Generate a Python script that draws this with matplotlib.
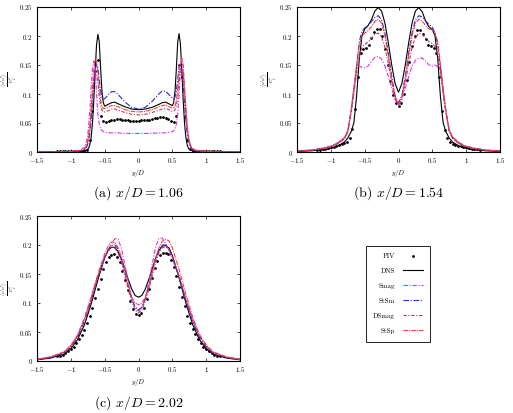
import numpy as np
import matplotlib
matplotlib.use('Agg')
import matplotlib.pyplot as plt

plt.rcParams['font.family'] = 'serif'
plt.rcParams['font.serif'] = ['cmr10', 'DejaVu Serif']
plt.rcParams['mathtext.fontset'] = 'cm'
plt.rcParams['axes.unicode_minus'] = False

# ===== (a) x/D = 1.06 =====
xa = [-1.5, -1.2, -1.0, -0.9, -0.85, -0.8, -0.78, -0.76, -0.74, -0.72, -0.70, -0.68, -0.66, -0.64,
      -0.62, -0.60, -0.58, -0.56, -0.54, -0.52, -0.50, -0.45, -0.40, -0.35, -0.30, -0.20, -0.10, 0.0,
      0.10, 0.20, 0.30, 0.35, 0.40, 0.45, 0.50, 0.52, 0.54, 0.56, 0.58, 0.60, 0.62, 0.64,
      0.66, 0.68, 0.70, 0.72, 0.74, 0.76, 0.78, 0.80, 0.85, 0.90, 1.0, 1.2, 1.5]
a_dns = [0, 0, 0, 0.0005, 0.001, 0.002, 0.003, 0.004, 0.006, 0.012, 0.025, 0.05, 0.09, 0.14,
         0.185, 0.203, 0.19, 0.145, 0.105, 0.085, 0.079, 0.082, 0.085, 0.086, 0.083, 0.078, 0.074, 0.073,
         0.074, 0.077, 0.082, 0.085, 0.086, 0.083, 0.08, 0.085, 0.105, 0.145, 0.19, 0.204, 0.185, 0.14,
         0.09, 0.05, 0.025, 0.012, 0.006, 0.004, 0.003, 0.002, 0.001, 0.0005, 0, 0, 0]
a_smag = [0, 0.0003, 0.001, 0.002, 0.004, 0.008, 0.013, 0.022, 0.04, 0.07, 0.11, 0.145, 0.157, 0.145,
          0.1, 0.065, 0.048, 0.04, 0.037, 0.035, 0.034, 0.033, 0.033, 0.033, 0.033, 0.032, 0.032, 0.032,
          0.032, 0.032, 0.033, 0.033, 0.033, 0.034, 0.035, 0.037, 0.04, 0.048, 0.065, 0.1, 0.145, 0.16,
          0.148, 0.11, 0.07, 0.04, 0.022, 0.013, 0.008, 0.004, 0.002, 0.001, 0.0003, 0, 0]
a_stsm = [0, 0.0003, 0.0008, 0.0015, 0.002, 0.004, 0.006, 0.01, 0.018, 0.032, 0.055, 0.085, 0.118, 0.142,
          0.151, 0.145, 0.125, 0.105, 0.094, 0.091, 0.092, 0.098, 0.104, 0.104, 0.099, 0.086, 0.077, 0.074,
          0.077, 0.087, 0.1, 0.105, 0.105, 0.099, 0.093, 0.092, 0.095, 0.106, 0.126, 0.146, 0.152, 0.142,
          0.118, 0.085, 0.055, 0.032, 0.018, 0.01, 0.006, 0.004, 0.002, 0.0015, 0.0008, 0.0003, 0]
a_dsmag = [0, 0.0003, 0.001, 0.002, 0.003, 0.005, 0.008, 0.013, 0.023, 0.04, 0.068, 0.1, 0.128, 0.138,
           0.135, 0.12, 0.095, 0.08, 0.072, 0.069, 0.069, 0.071, 0.074, 0.074, 0.072, 0.068, 0.065, 0.064,
           0.065, 0.068, 0.072, 0.074, 0.075, 0.073, 0.07, 0.07, 0.073, 0.08, 0.095, 0.12, 0.136, 0.14,
           0.13, 0.1, 0.068, 0.04, 0.023, 0.013, 0.008, 0.005, 0.003, 0.002, 0.001, 0.0003, 0]
a_stsp = [0, 0.0003, 0.001, 0.002, 0.003, 0.006, 0.009, 0.015, 0.026, 0.045, 0.075, 0.11, 0.145, 0.16,
          0.155, 0.135, 0.11, 0.09, 0.079, 0.075, 0.075, 0.077, 0.08, 0.08, 0.078, 0.073, 0.07, 0.069,
          0.07, 0.073, 0.078, 0.08, 0.081, 0.078, 0.076, 0.076, 0.079, 0.09, 0.11, 0.135, 0.155, 0.162,
          0.147, 0.112, 0.077, 0.046, 0.027, 0.015, 0.009, 0.006, 0.003, 0.002, 0.001, 0.0003, 0]
a_piv = [0.001, 0.001, 0.001, 0.001, 0.001, 0.001, 0.001, 0.001, 0.001, 0.001, 0.001,
         0.004, 0.02, 0.07, 0.14, 0.158, 0.062, 0.053, 0.052, 0.053, 0.055, 0.056, 0.057, 0.057, 0.056,
         0.055, 0.055, 0.054, 0.054, 0.054, 0.054,
         0.055, 0.055, 0.056, 0.056, 0.057, 0.058, 0.059, 0.06, 0.06, 0.059, 0.057, 0.054, 0.052, 0.062,
         0.15, 0.13, 0.06, 0.02, 0.005, 0.001,
         0.001, 0.001, 0.001, 0.001, 0.001, 0.001, 0.001, 0.001, 0.001, 0.001]

# ===== (b) x/D = 1.54 =====
xb = [-1.5, -1.3, -1.1, -1.0, -0.9, -0.8, -0.75, -0.70, -0.66, -0.62, -0.58, -0.54, -0.50, -0.45,
      -0.40, -0.35, -0.30, -0.25, -0.20, -0.15, -0.10, -0.05, 0.0,
      0.05, 0.10, 0.15, 0.20, 0.25, 0.30, 0.35, 0.40, 0.45, 0.50, 0.54, 0.58, 0.62, 0.66,
      0.70, 0.75, 0.8, 0.9, 1.0, 1.1, 1.3, 1.5]
b_dns = [0.001, 0.002, 0.004, 0.006, 0.01, 0.017, 0.024, 0.035, 0.05, 0.095, 0.16, 0.2, 0.212, 0.218,
         0.228, 0.243, 0.249, 0.243, 0.222, 0.188, 0.15, 0.118, 0.103,
         0.118, 0.15, 0.188, 0.222, 0.243, 0.249, 0.242, 0.226, 0.216, 0.211, 0.2, 0.16, 0.095, 0.05,
         0.035, 0.024, 0.017, 0.01, 0.006, 0.004, 0.002, 0.001]
b_smag = [0.002, 0.003, 0.006, 0.009, 0.014, 0.022, 0.035, 0.07, 0.11, 0.145, 0.148, 0.146, 0.145, 0.148,
          0.156, 0.163, 0.165, 0.16, 0.148, 0.13, 0.11, 0.09, 0.08,
          0.09, 0.11, 0.13, 0.148, 0.158, 0.162, 0.162, 0.157, 0.15, 0.148, 0.15, 0.147, 0.14, 0.105,
          0.07, 0.036, 0.023, 0.014, 0.009, 0.006, 0.003, 0.002]
b_stsm = [0.002, 0.003, 0.007, 0.01, 0.015, 0.024, 0.035, 0.07, 0.105, 0.145, 0.19, 0.208, 0.214, 0.218,
          0.225, 0.232, 0.235, 0.228, 0.205, 0.17, 0.13, 0.097, 0.085,
          0.097, 0.13, 0.17, 0.205, 0.228, 0.235, 0.233, 0.226, 0.22, 0.215, 0.205, 0.185, 0.145, 0.105,
          0.07, 0.037, 0.025, 0.015, 0.01, 0.007, 0.003, 0.002]
b_dsmag = [0.002, 0.003, 0.006, 0.009, 0.014, 0.023, 0.035, 0.068, 0.1, 0.135, 0.165, 0.18, 0.185, 0.19,
           0.196, 0.203, 0.205, 0.198, 0.18, 0.152, 0.12, 0.092, 0.082,
           0.092, 0.12, 0.152, 0.18, 0.198, 0.205, 0.203, 0.196, 0.19, 0.187, 0.182, 0.168, 0.138, 0.1,
           0.068, 0.035, 0.023, 0.014, 0.009, 0.006, 0.003, 0.002]
b_stsp = [0.002, 0.003, 0.007, 0.01, 0.016, 0.025, 0.037, 0.072, 0.11, 0.15, 0.185, 0.2, 0.205, 0.209,
          0.216, 0.225, 0.229, 0.222, 0.2, 0.165, 0.125, 0.095, 0.083,
          0.095, 0.125, 0.165, 0.2, 0.222, 0.229, 0.226, 0.218, 0.212, 0.21, 0.205, 0.19, 0.152, 0.11,
          0.072, 0.038, 0.026, 0.016, 0.01, 0.007, 0.003, 0.002]
b_piv = [0.004, 0.004, 0.005, 0.006, 0.007, 0.008, 0.009, 0.01, 0.012, 0.013, 0.015, 0.018, 0.025,
         0.04, 0.075, 0.13, 0.17, 0.178, 0.18, 0.185, 0.196, 0.207, 0.212, 0.212, 0.2, 0.178, 0.15,
         0.122, 0.098, 0.084, 0.08,
         0.084, 0.1, 0.125, 0.155, 0.182, 0.2, 0.21, 0.21, 0.204, 0.195, 0.185, 0.182, 0.18, 0.17,
         0.13, 0.07, 0.038, 0.024, 0.017, 0.014, 0.012, 0.011, 0.01, 0.009, 0.008, 0.007, 0.006,
         0.005, 0.005, 0.004]

# ===== (c) x/D = 2.02 =====
xc = [-1.5, -1.3, -1.1, -1.0, -0.9, -0.8, -0.7, -0.6, -0.5, -0.45, -0.4, -0.35, -0.3, -0.25,
      -0.2, -0.15, -0.1, -0.05, 0.0,
      0.05, 0.1, 0.15, 0.2, 0.25, 0.3, 0.35, 0.4, 0.45, 0.5, 0.6, 0.7, 0.8, 0.9,
      1.0, 1.1, 1.3, 1.5]
c_dns = [0.002, 0.005, 0.012, 0.021, 0.037, 0.062, 0.098, 0.14, 0.178, 0.19, 0.196, 0.196, 0.188, 0.175,
         0.158, 0.14, 0.124, 0.113, 0.11,
         0.113, 0.124, 0.14, 0.158, 0.176, 0.19, 0.198, 0.199, 0.195, 0.182, 0.143, 0.1, 0.063, 0.037,
         0.021, 0.012, 0.005, 0.002]
c_smag = [0.003, 0.007, 0.015, 0.026, 0.044, 0.072, 0.108, 0.148, 0.178, 0.19, 0.202, 0.211, 0.21, 0.193,
          0.165, 0.135, 0.108, 0.091, 0.086,
          0.091, 0.108, 0.135, 0.165, 0.195, 0.211, 0.212, 0.203, 0.19, 0.176, 0.146, 0.106, 0.07, 0.043,
          0.025, 0.014, 0.006, 0.003]
c_stsm = [0.003, 0.006, 0.014, 0.024, 0.041, 0.068, 0.104, 0.145, 0.18, 0.192, 0.199, 0.2, 0.193, 0.175,
          0.152, 0.128, 0.107, 0.093, 0.088,
          0.093, 0.107, 0.128, 0.152, 0.175, 0.192, 0.2, 0.2, 0.193, 0.18, 0.145, 0.104, 0.068, 0.041,
          0.024, 0.014, 0.006, 0.003]
c_dsmag = [0.003, 0.007, 0.015, 0.025, 0.043, 0.07, 0.105, 0.145, 0.178, 0.19, 0.196, 0.195, 0.186, 0.168,
           0.146, 0.122, 0.103, 0.088, 0.083,
           0.088, 0.103, 0.122, 0.146, 0.168, 0.186, 0.195, 0.197, 0.192, 0.18, 0.147, 0.107, 0.072, 0.044,
           0.026, 0.015, 0.007, 0.003]
c_stsp = [0.003, 0.007, 0.016, 0.027, 0.045, 0.074, 0.11, 0.15, 0.185, 0.198, 0.205, 0.205, 0.195, 0.178,
          0.155, 0.13, 0.11, 0.1, 0.097,
          0.1, 0.11, 0.128, 0.152, 0.176, 0.195, 0.206, 0.21, 0.207, 0.195, 0.158, 0.115, 0.076, 0.046,
          0.028, 0.016, 0.007, 0.003]
c_piv = [0.008, 0.009, 0.011, 0.014, 0.017, 0.02, 0.025, 0.031, 0.038, 0.045, 0.054, 0.065, 0.077,
         0.092, 0.108, 0.125, 0.142, 0.158, 0.17, 0.179, 0.183, 0.184, 0.18, 0.17, 0.156, 0.14, 0.122,
         0.104, 0.09, 0.081, 0.079,
         0.082, 0.092, 0.107, 0.125, 0.143, 0.16, 0.173, 0.182, 0.186, 0.187, 0.184, 0.175, 0.162, 0.146,
         0.128, 0.11, 0.094, 0.078, 0.066, 0.055, 0.046, 0.038, 0.031, 0.025, 0.02, 0.017, 0.014,
         0.011, 0.009, 0.008]

x_piv = np.linspace(-1.2, 1.2, 61)   # PIV の計測位置

xticks = [-1.5, -1.0, -0.5, 0.0, 0.5, 1.0, 1.5]
xticklabels = ['$-1.5$', '$-1$', '$-0.5$', '$0$', '$0.5$', '$1$', '$1.5$']
yticks = [0, 0.05, 0.1, 0.15, 0.2, 0.25]
yticklabels = ['$0$', '$0.05$', '$0.1$', '$0.15$', '$0.2$', '$0.25$']
ylabel = r'$\frac{\langle u^{\prime}u^{\prime}\rangle}{U_j^2}$'

# 線種
styles = {
    'Smag': dict(color='#e030e0', ls=(0, (4, 1.5, 1, 1.5))),
    'StSm': dict(color='#2828d8', ls=(0, (5, 1.5, 1, 1.5))),
    'DSmag': dict(color='#b83a5a', ls=(0, (3, 1.5, 1, 1.5))),
    'StSp': dict(color='#ff3c3c', ls=(0, (4, 1, 1, 1))),
}

fig = plt.figure(figsize=(5.13, 4.13), dpi=100)
W, H = 513, 413


def make_ax(l, t, r, b):
    return fig.add_axes([l / W, 1 - b / H, (r - l) / W, (b - t) / H])


panels = [
    (make_ax(37, 7, 240, 152), xa, a_dns, a_smag, a_stsm, a_dsmag, a_stsp, a_piv, '(a) $x/D = 1.06$', 193),
    (make_ax(297, 7, 500, 152), xb, b_dns, b_smag, b_stsm, b_dsmag, b_stsp, b_piv, '(b) $x/D = 1.54$', 193),
    (make_ax(37, 216, 240, 361), xc, c_dns, c_smag, c_stsm, c_dsmag, c_stsp, c_piv, '(c) $x/D = 2.02$', 403),
]

handles = []
for ax, x, dns, smag, stsm, dsmag, stsp, piv, cap, cap_y in panels:
    h_piv, = ax.plot(x_piv, piv, ls='none', marker='o', ms=1.0, color='black', label='PIV')
    h_dns, = ax.plot(x, dns, color='black', lw=0.8, label='DNS')
    hs = [h_piv, h_dns]
    for name, ys in zip(['Smag', 'StSm', 'DSmag', 'StSp'], [smag, stsm, dsmag, stsp]):
        h, = ax.plot(x, ys, lw=0.8, label=name, **styles[name])
        hs.append(h)
    handles = hs
    ax.set_xlim(-1.5, 1.5)
    ax.set_ylim(0, 0.25)
    ax.set_xticks(xticks)
    ax.set_xticklabels(xticklabels)
    ax.set_yticks(yticks)
    ax.set_yticklabels(yticklabels)
    ax.tick_params(direction='in', top=True, right=True, length=2.5, width=0.5,
                   labelsize=5, pad=3)
    for s in ax.spines.values():
        s.set_linewidth(0.8)
    ax.set_xlabel('$y/D$', fontsize=5, labelpad=2)
    bb = ax.get_position()
    # 縦軸ラベル（図の座標で配置）
    fig.text(bb.x0 - 28 / W, (bb.y0 + bb.y1) / 2, ylabel, rotation=90,
             ha='center', va='center', fontsize=5)
    fig.text((bb.x0 + bb.x1) / 2, 1 - cap_y / H, cap, ha='center', va='center', fontsize=10)

leg = fig.legend(handles=handles, loc='center', bbox_to_anchor=(398 / W, 1 - 293.5 / H),
                 markerfirst=False, fontsize=5, handlelength=2.8, labelspacing=1.3,
                 borderpad=1.1, handletextpad=1.2, fancybox=False, framealpha=1,
                 edgecolor='black')
leg.get_frame().set_linewidth(0.6)

plt.savefig('out.png', dpi=100)
